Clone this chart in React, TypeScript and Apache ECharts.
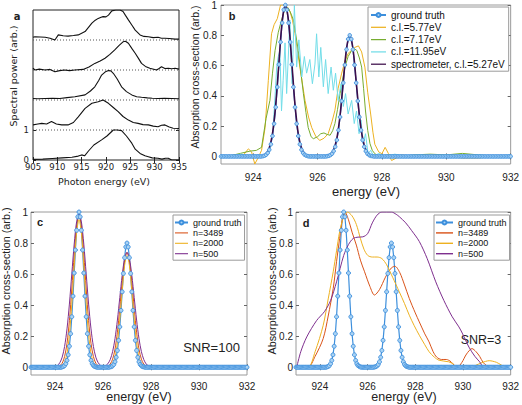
import React, { useEffect, useRef } from "react";
import * as echarts from "echarts";

const FONT = "Liberation Sans";
const FONT_A = "DejaVu Sans";

// ---------- panel a : measured spectra (stacked, offsets included) ----------
const aTicksX = [905, 910, 915, 920, 925, 930, 935];
const aTicksY = [0, 1];
const aBaselines = [1, 2, 3, 4];
const aTrace0 = [[905,0.02],[907,0.03],[909,0.05],[911,0.07],[913,0.09],[914.3,0.13],[915,0.17],[915.6,0.14],[916.4,0.3],[917.5,0.5],[919.1,0.67],[920.2,0.8],[921.5,1.0],[922.3,1.0],[923.2,0.98],[924.2,0.8],[925.3,0.56],[926,0.36],[927,0.22],[928,0.14],[928.7,0.11],[929.5,0.07],[930.7,0.06],[931.5,0.03],[932.2,0.06],[932.8,0.06],[933.5,0.0],[935,0.0]];
const aTrace1 = [[905,1.17],[906,1.2],[906.8,1.22],[907.8,1.2],[908.8,1.28],[909.8,1.2],[910.9,1.17],[912.2,1.17],[913.3,1.25],[914.3,1.44],[915.7,1.72],[917.1,1.89],[918.4,1.94],[919.4,2.0],[920.5,1.89],[921.5,1.75],[922.5,1.61],[923.5,1.45],[924.6,1.33],[925.6,1.25],[926.6,1.22],[927.6,1.18],[928.7,1.17],[929.7,1.13],[930.7,1.11],[931.4,1.16],[932.1,1.17],[933,1.1],[933.8,1.06],[935,1.05]];
const aTrace2 = [[905,2.05],[906,2.04],[907.5,2.05],[909,2.06],[910.5,2.05],[912,2.08],[913.6,2.11],[915.7,2.17],[916.8,2.3],[917.7,2.44],[918.5,2.65],[919.1,2.83],[919.8,2.93],[920.5,2.98],[921,2.97],[921.5,2.89],[922.3,2.7],[923.2,2.44],[924.2,2.28],[925.3,2.17],[926.3,2.11],[927.3,2.09],[928.5,2.07],[929.5,2.06],[930.7,2.05],[932,2.06],[933.5,2.05],[935,2.04]];
const aTrace3 = [[905,3.06],[905.4,3.0],[906.3,3.03],[907.5,3.0],[908.5,3.02],[909.5,2.94],[910.5,2.98],[911.5,3.0],[912.5,2.98],[913.6,3.0],[915.3,3.02],[916.5,3.1],[917.7,3.22],[918.8,3.3],[919.8,3.39],[920.8,3.52],[921.8,3.67],[922.7,3.82],[923.5,3.94],[924,3.96],[924.6,3.89],[925.3,3.72],[926,3.56],[926.7,3.38],[927.3,3.22],[928.1,3.12],[929,3.06],[930.4,3.0],[930.9,3.05],[931.4,3.11],[932.1,3.05],[932.8,3.06],[933.5,3.04],[934.2,3.06],[935,3.03]];
const aTrace4 = [[905,4.09],[905.4,4.11],[906.5,4.1],[907.5,4.09],[908.5,4.06],[909.5,4.0],[910.2,4.17],[911.2,4.14],[912.2,4.13],[913.3,4.15],[914.3,4.17],[915.7,4.28],[916.4,4.42],[917.1,4.56],[917.8,4.66],[918.4,4.72],[919,4.76],[919.4,4.78],[920,4.77],[920.5,4.83],[921.2,4.97],[922,5.0],[922.9,5.0],[923.5,4.95],[924,4.82],[924.6,4.67],[925.3,4.5],[926,4.33],[927,4.17],[927.8,4.12],[928.7,4.11],[929.7,4.08],[930.7,4.09],[931.4,4.06],[932.1,4.06],[933,4.05],[934.2,4.03],[935,4.03]];

// ---------- shared energy axis (b, c, d) ----------
const eTicks = [924, 926, 928, 930, 932];
const yTicks = [0, 0.2, 0.4, 0.6, 0.8, 1];

// ground truth: sampled every 0.05 eV, zero outside the two peaks
const gtStart = 923;
const gtStep = 0.05;
const gtCount = 181;
const gtPeak1Index = 26; // 924.30 eV
const gtPeak1 = [0.002,0.005,0.011,0.023,0.044,0.080,0.135,0.216,0.325,0.458,0.607,0.755,0.882,0.969,1.0,0.969,0.882,0.755,0.607,0.458,0.325,0.216,0.135,0.080,0.044,0.023,0.011,0.005,0.002];
const gtPeak2Index = 66; // 926.30 eV
const gtPeak2 = [0.002,0.004,0.009,0.018,0.035,0.064,0.108,0.173,0.260,0.366,0.486,0.604,0.706,0.775,0.8,0.775,0.706,0.604,0.486,0.366,0.260,0.173,0.108,0.064,0.035,0.018,0.009,0.004,0.002];

// ---------- panel b ----------
const bYellow = [[923,0.0],[923.4,0.0],[923.7,0.01],[923.85,0.05],[923.95,0.03],[924.05,-0.05],[924.15,-0.01],[924.26,0.04],[924.37,0.19],[924.47,0.5],[924.57,0.81],[924.65,0.87],[924.75,0.91],[924.85,1.0],[924.95,1.0],[925.05,0.99],[925.14,0.96],[925.22,0.9],[925.3,0.81],[925.45,0.59],[925.61,0.37],[925.72,0.26],[925.82,0.19],[925.95,0.13],[926.07,0.106],[926.2,0.12],[926.33,0.15],[926.45,0.23],[926.54,0.305],[926.64,0.45],[926.75,0.55],[926.85,0.63],[926.95,0.68],[927.05,0.70],[927.16,0.72],[927.27,0.73],[927.37,0.69],[927.47,0.59],[927.56,0.42],[927.65,0.28],[927.72,0.16],[927.78,0.08],[927.9,0.03],[928.0,0.018],[928.1,0.06],[928.2,0.02],[928.3,-0.027],[928.45,-0.01],[928.6,0.01],[929,0.0],[929.5,0.005],[930,0.0],[930.5,-0.01],[931,-0.01],[931.5,0.0],[932,0.0]];
const bGreen = [[923,0.0],[923.3,0.005],[923.6,0.02],[923.9,0.035],[924.1,0.04],[924.26,0.06],[924.4,0.25],[924.52,0.37],[924.6,0.55],[924.68,0.70],[924.78,0.82],[924.88,0.9],[924.98,0.97],[925.09,0.98],[925.18,0.94],[925.25,0.9],[925.32,0.81],[925.4,0.70],[925.48,0.56],[925.56,0.415],[925.64,0.29],[925.71,0.19],[925.8,0.13],[925.87,0.117],[926.0,0.13],[926.1,0.15],[926.2,0.155],[926.3,0.145],[926.39,0.14],[926.47,0.17],[926.54,0.217],[926.62,0.31],[926.7,0.415],[926.78,0.51],[926.85,0.59],[926.95,0.66],[927.06,0.70],[927.15,0.71],[927.22,0.70],[927.3,0.65],[927.37,0.59],[927.43,0.45],[927.49,0.30],[927.56,0.17],[927.63,0.084],[927.7,0.04],[927.78,0.018],[927.9,0.0],[928.2,0.01],[928.6,0.0],[929,0.01],[929.5,0.015],[930,0.01],[930.5,0.02],[931,0.01],[931.5,0.0],[932,0.005]];
const bCyan = [[923,0.01],[923.3,0.0],[923.6,0.015],[923.9,0.005],[924.2,0.01],[924.35,0.0],[924.47,0.02],[924.55,0.08],[924.62,0.19],[924.68,0.4],[924.73,0.59],[924.78,0.66],[924.83,0.70],[924.88,0.30],[924.93,0.5],[924.99,0.75],[925.04,0.415],[925.09,0.65],[925.14,0.90],[925.21,0.48],[925.28,1.0],[925.35,0.59],[925.42,0.77],[925.51,0.525],[925.59,0.66],[925.66,0.55],[925.76,0.64],[925.84,0.48],[925.92,0.61],[925.97,0.81],[926.04,0.525],[926.1,0.72],[926.18,0.46],[926.25,0.64],[926.33,0.415],[926.42,0.59],[926.49,0.437],[926.56,0.55],[926.64,0.37],[926.73,0.48],[926.8,0.33],[926.87,0.415],[926.95,0.28],[927.06,0.37],[927.14,0.217],[927.21,0.30],[927.29,0.15],[927.35,0.24],[927.42,0.084],[927.49,0.15],[927.57,0.018],[927.65,0.04],[927.75,0.0],[927.9,0.02],[928.1,0.0],[928.4,0.015],[928.8,0.0],[929.2,0.01],[929.6,-0.005],[930,0.01],[930.5,0.0],[931,0.01],[931.5,0.0],[932,0.01]];
const bSpecX1 = 924.2;
const bSpecPeak1 = [0.001,0.004,0.016,0.055,0.15,0.34,0.62,0.89,1.0,0.89,0.62,0.34,0.15,0.055,0.016,0.004,0.001];
const bSpecX2 = 926.2;
const bSpecPeak2 = [0.001,0.003,0.013,0.044,0.12,0.272,0.496,0.712,0.8,0.712,0.496,0.272,0.12,0.044,0.013,0.003,0.001];
const bSpecStep = 0.1;

// ---------- panel c (SNR=100) ----------
const cOrange = [[923,0],[924.0,0],[924.1,0.002],[924.2,0.009],[924.3,0.026],[924.4,0.069],[924.5,0.154],[924.6,0.300],[924.7,0.504],[924.8,0.729],[924.9,0.910],[925.0,0.98],[925.1,0.910],[925.2,0.729],[925.3,0.504],[925.4,0.300],[925.5,0.154],[925.6,0.069],[925.7,0.026],[925.8,0.009],[925.9,0.002],[926.0,0.001],[926.1,0.002],[926.2,0.007],[926.3,0.020],[926.4,0.052],[926.5,0.116],[926.6,0.226],[926.7,0.380],[926.8,0.551],[926.9,0.687],[927.0,0.74],[927.1,0.687],[927.2,0.551],[927.3,0.380],[927.4,0.226],[927.5,0.116],[927.6,0.052],[927.7,0.020],[927.8,0.007],[927.9,0.002],[928.0,0],[932,0]];
const cYellow = [[923,0],[924.1,0],[924.2,0.002],[924.3,0.010],[924.4,0.031],[924.5,0.089],[924.6,0.209],[924.7,0.406],[924.8,0.651],[924.9,0.865],[925.0,0.95],[925.1,0.865],[925.2,0.651],[925.3,0.406],[925.4,0.209],[925.5,0.089],[925.6,0.031],[925.7,0.010],[925.8,0.002],[926.2,0.001],[926.3,0.007],[926.4,0.024],[926.5,0.068],[926.6,0.158],[926.7,0.307],[926.8,0.493],[926.9,0.655],[927.0,0.72],[927.1,0.655],[927.2,0.493],[927.3,0.307],[927.4,0.158],[927.5,0.068],[927.6,0.024],[927.7,0.007],[927.8,0.001],[927.9,0],[932,0]];
const cPurple = [[923,0],[923.9,0],[924.0,0.004],[924.1,0.011],[924.2,0.029],[924.3,0.065],[924.4,0.134],[924.5,0.247],[924.6,0.407],[924.7,0.601],[924.8,0.793],[924.9,0.937],[925.0,0.99],[925.1,0.937],[925.2,0.793],[925.3,0.601],[925.4,0.407],[925.5,0.247],[925.6,0.134],[925.7,0.065],[925.8,0.029],[925.9,0.012],[926.0,0.007],[926.1,0.010],[926.2,0.022],[926.3,0.049],[926.4,0.100],[926.5,0.184],[926.6,0.304],[926.7,0.449],[926.8,0.593],[926.9,0.700],[927.0,0.74],[927.1,0.700],[927.2,0.593],[927.3,0.449],[927.4,0.304],[927.5,0.184],[927.6,0.100],[927.7,0.049],[927.8,0.021],[927.9,0.008],[928.0,0.003],[928.1,0],[932,0]];

// ---------- panel d (SNR=3) ----------
const dOrange = [[923,0],[923.5,0],[923.8,0.07],[924.14,0.185],[924.35,0.33],[924.56,0.508],[924.7,0.68],[924.83,0.83],[924.95,0.96],[925.05,1.0],[925.2,0.95],[925.35,0.87],[925.53,0.787],[925.7,0.69],[925.875,0.615],[926.1,0.52],[926.29,0.465],[926.5,0.5],[926.75,0.58],[927.0,0.64],[927.15,0.65],[927.35,0.61],[927.55,0.53],[927.75,0.443],[928.0,0.35],[928.17,0.292],[928.4,0.215],[928.58,0.163],[928.75,0.1],[928.9,0.065],[929.1,0.05],[929.3,0.05],[929.5,0.035],[929.65,0.01],[929.76,0.0],[929.95,0.03],[930.15,0.085],[930.38,0.12],[930.55,0.1],[930.7,0.07],[930.85,0.03],[931.0,0.01],[931.2,0.0],[932,0]];
const dYellow = [[923,0],[923.5,0],[923.8,0.1],[924.14,0.27],[924.35,0.44],[924.56,0.615],[924.7,0.75],[924.83,0.873],[925.0,0.97],[925.15,1.0],[925.35,0.975],[925.53,0.92],[925.7,0.83],[925.85,0.76],[926.01,0.72],[926.2,0.71],[926.4,0.71],[926.6,0.70],[926.8,0.66],[927.05,0.58],[927.33,0.486],[927.55,0.41],[927.75,0.335],[927.95,0.27],[928.17,0.206],[928.4,0.145],[928.58,0.1],[928.8,0.065],[929.0,0.045],[929.4,0.035],[929.6,0.02],[929.76,0.0],[930.2,0.0],[930.5,0.01],[930.8,0.03],[931.1,0.042],[931.4,0.032],[931.6,0.015],[931.8,0.0],[932,0]];
const dPurple = [[923.03,0],[923.2,0.1],[923.45,0.195],[923.86,0.30],[924.2,0.36],[924.45,0.43],[924.7,0.55],[925.0,0.72],[925.2,0.79],[925.4,0.83],[925.6,0.838],[925.8,0.84],[926.0,0.86],[926.2,0.93],[926.4,0.98],[926.6,1.0],[927.0,1.0],[927.2,0.985],[927.33,0.97],[927.6,0.93],[927.85,0.88],[928.17,0.81],[928.5,0.70],[928.86,0.55],[929.2,0.43],[929.55,0.325],[929.83,0.26],[929.97,0.22],[930.25,0.13],[930.5,0.07],[930.7,0.035],[930.88,0],[932,0]];

// ---------- colours ----------
const C_GT = "#3d8fdc";
const C_GT_FILL = "#a9d2f3";
const C_ORANGE = "#D95319";
const C_YELLOW = "#EDB120";
const C_PURPLE = "#7E2F8E";
const C_GREEN = "#77AC30";
const C_CYAN = "#72dde8";
const C_SPEC = "#3c0d4a";
const C_BOX = "#9a9a9a";

const LINE_ICON = "path://M0,0 L24,0 L24,2 L0,2 Z";

function buildGT(): number[][] {
  const out: number[][] = [];
  for (let i = 0; i < gtCount; i++) {
    const x = +(gtStart + i * gtStep).toFixed(2);
    let y = 0;
    if (i >= gtPeak1Index && i < gtPeak1Index + gtPeak1.length) y = gtPeak1[i - gtPeak1Index];
    if (i >= gtPeak2Index && i < gtPeak2Index + gtPeak2.length) y = gtPeak2[i - gtPeak2Index];
    out.push([x, y]);
  }
  return out;
}

function buildSpec(): number[][] {
  const out: number[][] = [[923, 0]];
  bSpecPeak1.forEach((v, i) => out.push([+(bSpecX1 + i * bSpecStep).toFixed(2), v]));
  bSpecPeak2.forEach((v, i) => out.push([+(bSpecX2 + i * bSpecStep).toFixed(2), v]));
  out.push([932, 0]);
  return out;
}

function xAx(gridIndex: number, min: number, max: number, ticks: number[], labels: number[] | null, position: string, o: any = {}) {
  return {
    type: "value", gridIndex, min, max, position,
    axisLine: { show: false },
    splitLine: { show: false },
    axisTick: { show: true, inside: true, length: o.tickLen ?? 3, customValues: ticks, lineStyle: { color: o.tickColor ?? "#666" } },
    axisLabel: labels
      ? { show: true, customValues: labels, margin: o.margin ?? 6, fontSize: o.fontSize ?? 10, fontFamily: o.font ?? FONT, color: "#222", formatter: (v: number) => String(v) }
      : { show: false },
  };
}
function yAx(gridIndex: number, min: number, max: number, ticks: number[], labels: number[] | null, position: string, o: any = {}) {
  return {
    type: "value", gridIndex, min, max, position,
    axisLine: { show: false },
    splitLine: { show: false },
    axisTick: { show: true, inside: true, length: o.tickLen ?? 3, customValues: ticks, lineStyle: { color: o.tickColor ?? "#666" } },
    axisLabel: labels
      ? { show: true, customValues: labels, margin: o.margin ?? 3, fontSize: o.fontSize ?? 10, fontFamily: o.font ?? FONT, color: "#222", formatter: (v: number) => String(v) }
      : { show: false },
  };
}

function line(name: string, data: number[][], color: string, axis: number, width = 1, extra: any = {}) {
  return {
    type: "line", name, data, xAxisIndex: axis, yAxisIndex: axis,
    symbol: "none", silent: true, clip: true,
    lineStyle: { color, width }, itemStyle: { color },
    emphasis: { disabled: true },
    ...extra,
  };
}

function gtSeries(axis: number, size: number) {
  return line("ground truth", buildGT(), C_GT, axis, 1.2, {
    symbol: "circle", symbolSize: size, showSymbol: true, showAllSymbol: true,
    itemStyle: { color: C_GT_FILL, borderColor: C_GT, borderWidth: 0.9 },
  });
}

function txt(text: string, x: number, y: number, size: number, o: any = {}) {
  return {
    type: "text", x, y, rotation: o.rot ?? 0, silent: true,
    style: {
      text, fontSize: size, fontFamily: o.font ?? FONT, fontWeight: o.bold ? "bold" : "normal",
      fill: o.color ?? "#222", align: "center", verticalAlign: "middle",
    },
  };
}

function legendData(names: string[]) {
  return names.map((n) => (n === "ground truth" ? { name: n } : { name: n, icon: LINE_ICON }));
}

export default function App() {
  const ref = useRef<HTMLDivElement>(null);
  useEffect(() => {
    if (!ref.current) return;
    const chart = echarts.init(ref.current, null, { renderer: "svg" });
    const aOpt = { font: FONT_A, fontSize: 8.5, tickColor: "#222" };
    const option: any = {
      animation: false,
      backgroundColor: "#fff",
      grid: [
        { left: 33, top: 10, width: 146, height: 150, show: true, borderColor: "#222", borderWidth: 1, backgroundColor: "transparent" },
        { left: 221, top: 5, width: 290, height: 159, show: true, borderColor: C_BOX, borderWidth: 1, backgroundColor: "transparent" },
        { left: 31, top: 212, width: 216, height: 163, show: true, borderColor: C_BOX, borderWidth: 1, backgroundColor: "transparent" },
        { left: 296, top: 212, width: 216, height: 163, show: true, borderColor: C_BOX, borderWidth: 1, backgroundColor: "transparent" },
      ],
      xAxis: [
        xAx(0, 905, 935, aTicksX, aTicksX, "bottom", { ...aOpt, margin: 2 }),
        xAx(1, 923, 932, eTicks, eTicks, "bottom", { margin: 8 }),
        xAx(2, 923, 932, eTicks, eTicks, "bottom", { margin: 6 }),
        xAx(3, 923, 932, eTicks, eTicks, "bottom", { margin: 6 }),
        xAx(0, 905, 935, aTicksX, null, "top", aOpt),
        xAx(1, 923, 932, eTicks, null, "top"),
        xAx(2, 923, 932, eTicks, null, "top"),
        xAx(3, 923, 932, eTicks, null, "top"),
      ],
      yAxis: [
        yAx(0, 0, 5, aTicksY, aTicksY, "left", { ...aOpt, margin: 4 }),
        yAx(1, -0.05, 1, yTicks, yTicks, "left", { margin: 4 }),
        yAx(2, -0.05, 1, yTicks, yTicks, "left", { margin: 3 }),
        yAx(3, -0.05, 1, yTicks, yTicks, "left", { margin: 3 }),
        yAx(0, 0, 5, aTicksY, null, "right", aOpt),
        yAx(1, -0.05, 1, yTicks, null, "right"),
        yAx(2, -0.05, 1, yTicks, null, "right"),
        yAx(3, -0.05, 1, yTicks, null, "right"),
      ],
      legend: [
        {
          show: true, orient: "vertical", left: 368, top: 7, selectedMode: false,
          data: legendData(["ground truth", "c.l.=5.77eV", "c.l.=7.17eV", "c.l.=11.95eV", "spectrometer, c.l.=5.27eV"]),
          itemWidth: 15, itemHeight: 5, itemGap: 2.3, padding: [3, 4, 2, 2],
          borderColor: C_BOX, borderWidth: 1, backgroundColor: "#fff",
          textStyle: { fontFamily: FONT, fontSize: 10, color: "#111" },
        },
        {
          show: true, orient: "vertical", left: 173, top: 215, selectedMode: false,
          data: legendData(["ground truth", "n=3489", "n=2000", "n=500"]),
          itemWidth: 13, itemHeight: 5, itemGap: 1.4, padding: [3, 3, 2, 1],
          borderColor: C_BOX, borderWidth: 1, backgroundColor: "#fff",
          textStyle: { fontFamily: FONT, fontSize: 9, color: "#111" },
        },
        {
          show: true, orient: "vertical", left: 434, top: 215, selectedMode: false,
          data: legendData(["ground truth", "n=3489", "n=2000", "n=500"]),
          itemWidth: 17, itemHeight: 5, itemGap: 1.4, padding: [3, 3, 2, 1],
          borderColor: C_BOX, borderWidth: 1, backgroundColor: "#fff",
          textStyle: { fontFamily: FONT, fontSize: 9, color: "#111" },
        },
      ],
      series: [
        // panel a
        ...aBaselines.map((k) => line("base" + k, [[905, k], [935, k]], "#555", 0, 1, { lineStyle: { color: "#555", width: 1, type: [1, 2] } })),
        line("a0", aTrace0, "#111", 0, 1.1),
        line("a1", aTrace1, "#111", 0, 1.1),
        line("a2", aTrace2, "#111", 0, 1.1),
        line("a3", aTrace3, "#111", 0, 1.1),
        line("a4", aTrace4, "#111", 0, 1.1),
        // panel b
        gtSeries(1, 3.6),
        line("c.l.=5.77eV", bYellow, C_YELLOW, 1, 1),
        line("c.l.=7.17eV", bGreen, C_GREEN, 1, 1),
        line("c.l.=11.95eV", bCyan, C_CYAN, 1, 1),
        line("spectrometer, c.l.=5.27eV", buildSpec(), C_SPEC, 1, 1.6, { smooth: 0.3 }),
        // panel c
        gtSeries(2, 4),
        line("n=3489", cOrange, C_ORANGE, 2, 1, { smooth: 0.3 }),
        line("n=2000", cYellow, C_YELLOW, 2, 1, { smooth: 0.3 }),
        line("n=500", cPurple, C_PURPLE, 2, 1, { smooth: 0.3 }),
        // panel d
        gtSeries(3, 4),
        line("n=3489", dOrange, C_ORANGE, 3, 1, { smooth: 0.3 }),
        line("n=2000", dYellow, C_YELLOW, 3, 1, { smooth: 0.3 }),
        line("n=500", dPurple, C_PURPLE, 3, 1, { smooth: 0.3 }),
      ],
      graphic: [
        txt("a", 17, 16, 10, { bold: true, font: FONT_A }),
        txt("Spectral power (arb.)", 13.5, 76, 9.5, { rot: Math.PI / 2, font: FONT_A }),
        txt("Photon energy (eV)", 104, 181, 9.5, { font: FONT_A }),
        txt("b", 232, 16, 11, { bold: true }),
        txt("Absorption cross-section (arb.)", 195, 77, 10.5, { rot: Math.PI / 2 }),
        txt("energy (eV)", 366, 191, 13),
        txt("c", 40, 222, 11, { bold: true }),
        txt("Absorption cross-section (arb.)", 6, 281, 10.8, { rot: Math.PI / 2 }),
        txt("energy (eV)", 139, 397, 12.5),
        txt("SNR=100", 211.5, 347.5, 13),
        txt("d", 306, 223, 11, { bold: true }),
        txt("Absorption cross-section (arb.)", 271.5, 281, 10.8, { rot: Math.PI / 2 }),
        txt("energy (eV)", 404, 397, 12.5),
        txt("SNR=3", 481, 340, 12.5),
      ],
    };
    chart.setOption(option);
    return () => chart.dispose();
  }, []);
  return <div ref={ref} style={{ position: "fixed", left: 0, top: 0, width: 522, height: 405 }} />;
}
